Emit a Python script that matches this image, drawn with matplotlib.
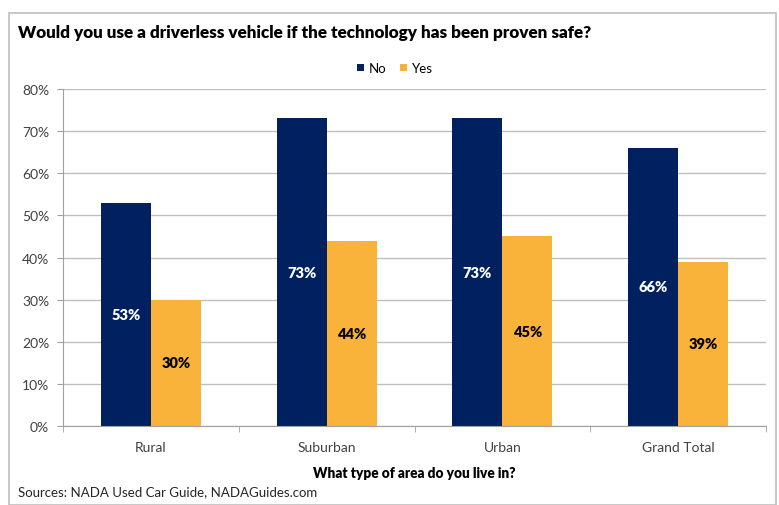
import numpy as np
import matplotlib
matplotlib.use("Agg")
import matplotlib.pyplot as plt
from matplotlib.patches import Rectangle

plt.rcParams["font.family"] = ["Lato", "DejaVu Sans"]

categories = ["Rural", "Suburban", "Urban", "Grand Total"]
no_vals = [53, 73, 73, 66]
yes_vals = [30, 44, 45, 39]
yticks = [0, 10, 20, 30, 40, 50, 60, 70, 80]

navy = "#002060"
gold = "#F9B23A"

fig = plt.figure(figsize=(7.79, 5.06), dpi=100)
fig.patches.append(Rectangle((9 / 779, 0.0), 767 / 779, 1 - 14 / 506,
                             transform=fig.transFigure, fill=False,
                             edgecolor="#BFBFBF", linewidth=1.2))

ax = fig.add_axes([63 / 779, 1 - 427 / 506, 703 / 779, 337 / 506])
x = np.arange(len(categories))
w = 0.285
b1 = ax.bar(x - w / 2, no_vals, w, color=navy, label="No")
b2 = ax.bar(x + w / 2, yes_vals, w, color=gold, label="Yes")

for rect, v in zip(b1, no_vals):
    ax.text(rect.get_x() + rect.get_width() / 2, v / 2, f"{v}%", ha="center",
            va="center", color="white", fontsize=10.5, fontweight="heavy")
for rect, v in zip(b2, yes_vals):
    ax.text(rect.get_x() + rect.get_width() / 2, v / 2, f"{v}%", ha="center",
            va="center", color="black", fontsize=10.5, fontweight="heavy")

ax.set_xlim(-0.5, len(categories) - 0.5)
ax.set_ylim(0, 80)
ax.set_yticks(yticks)
ax.set_yticklabels([f"{t}%" for t in yticks], fontsize=10, color="#404040")
ax.yaxis.grid(True, color="#BFBFBF", linewidth=1)
ax.set_axisbelow(True)
ax.set_xticks(x)
ax.set_xticklabels(categories, fontsize=10, color="#404040")
ax.tick_params(axis="x", length=0, pad=11)
ax.set_xticks(np.arange(len(categories) + 1) - 0.5, minor=True)
ax.tick_params(axis="x", which="minor", length=4, color="#A0A0A0")
ax.tick_params(axis="y", length=4, color="#A0A0A0", pad=6)
for s in ["top", "right"]:
    ax.spines[s].set_visible(False)
ax.spines["left"].set_color("#A0A0A0")
ax.spines["bottom"].set_color("#A0A0A0")

ax.set_xlabel("What type of area do you live in?", fontsize=9.8,
              fontweight="heavy", labelpad=9)

fig.text(18 / 779, 1 - 33 / 506, "Would you use a driverless vehicle if the technology has been proven safe?",
         fontsize=12.3, fontweight="heavy", va="center", ha="left")
fig.legend(loc="center", bbox_to_anchor=(395 / 779, 1 - 69 / 506), ncol=2,
           frameon=False, fontsize=9.5, handlelength=0.5, handleheight=0.5,
           handletextpad=0.4, columnspacing=1.0)
fig.text(18 / 779, 1 - 492 / 506, "Sources: NADA Used Car Guide, NADAGuides.com",
         fontsize=9.5, va="center", ha="left", color="#262626")

fig.savefig("out.png", dpi=100)
